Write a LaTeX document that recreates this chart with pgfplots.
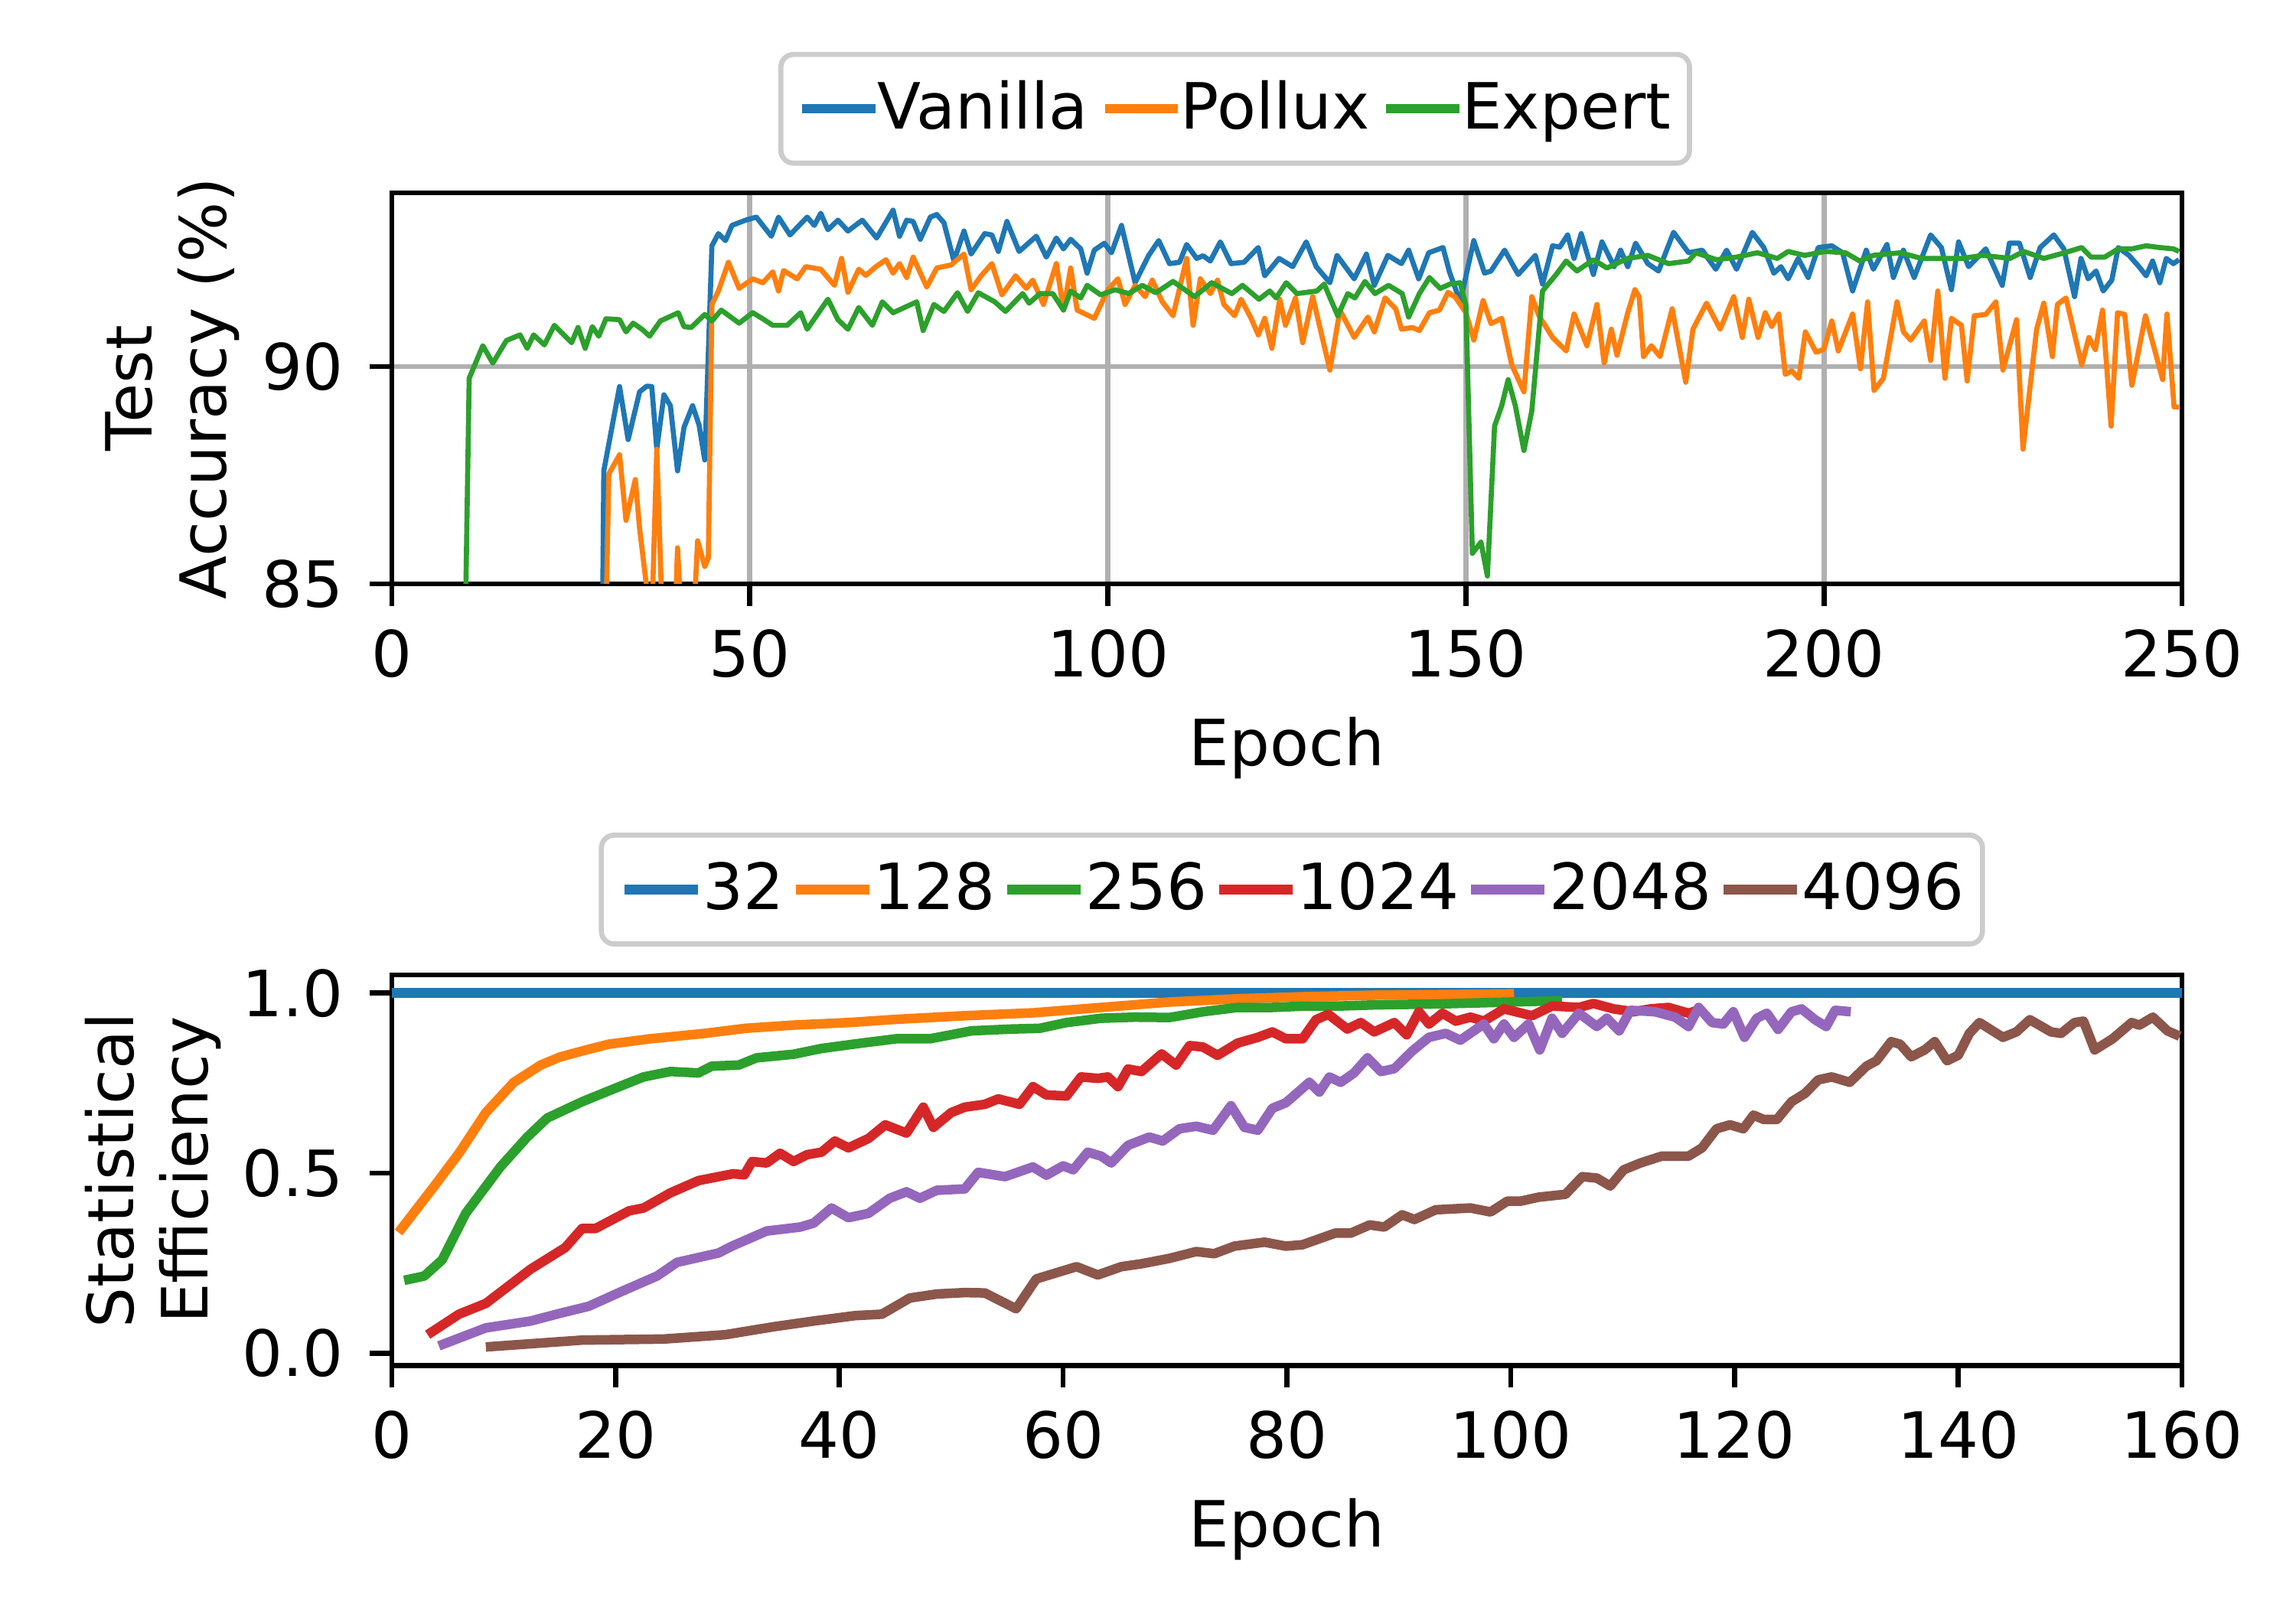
\documentclass[border=0pt]{standalone}
\usepackage{fontspec}
\setmainfont{DejaVu Sans}
\usepackage{pgfplots}
\pgfplotsset{compat=1.18}
\definecolor{c0}{HTML}{1F77B4}
\definecolor{c1}{HTML}{FF7F0E}
\definecolor{c2}{HTML}{2CA02C}
\definecolor{c3}{HTML}{D62728}
\definecolor{c4}{HTML}{9467BD}
\definecolor{c5}{HTML}{8C564B}
\definecolor{gridc}{HTML}{B0B0B0}
\definecolor{legc}{HTML}{CCCCCC}
\newcommand{\ls}{\rule[-2.14bp]{0pt}{9.94bp}}
\newcommand{\tf}{\fontsize{10bp}{11.6bp}\selectfont}
\pgfplotsset{
 myaxis/.style={
  scale only axis, width=280.68bp,
  axis line style={line width=0.8bp, black},
  tick align=outside, tick pos=left,
  major tick length=3.5bp,
  every tick/.style={black, line width=0.8bp},
  /pgf/number format/assume math mode=true,
  tick label style={font=\tf},
  xticklabel style={anchor=base, inner sep=0pt, yshift=-11.1bp},
  yticklabel style={anchor=east, inner sep=0pt, xshift=-3.9bp},
  xlabel style={at={(axis description cs:0.5,0)}, anchor=base, yshift=-28.5bp, inner sep=0pt, font=\tf},
  ylabel style={anchor=center, align=center, inner sep=0pt, font=\tf},
  legend columns=-1,
  legend cell align=left,
  legend style={draw=legc, line width=0.8bp, rounded corners=2bp, fill=white,
    inner xsep=2.9bp, inner ysep=3.88bp, font=\tf,
    nodes={inner sep=0pt}},
  legend image code/.code={\path (0bp,0bp) -- (11.5bp,0bp);
    \draw[##1, line width=1.5bp, line cap=rect] (0.75bp,0bp) -- (10.75bp,0bp);},
 }
}
\begin{document}
\begin{tikzpicture}
\path[use as bounding box] (0,0) rectangle (360bp,252bp);
\begin{axis}[myaxis, at={(61.44bp,160.44bp)}, anchor=south west, height=61.32bp,
  xmin=0, xmax=250, ymin=85, ymax=94,
  xtick={0,50,100,150,200,250}, ytick={85,90},
  grid=major, major grid style={gridc, line width=0.8bp},
  xlabel={Epoch}, ylabel={Test\\Accuracy (\%)},
  ylabel style={at={(axis description cs:-0.1227,0.5)}},
  legend style={at={(axis description cs:0.4711,1.2148)}, anchor=center,
    /tikz/every even column/.append style={column sep=2.2bp}}]
\addplot[c0, line width=0.8bp, line join=round] coordinates {
(0,60) (28,70) (29.2,80) (29.6,87.6) (31.8,89.54) (33,88.32) (34.6,89.42) (35.6,89.55) (36.3,89.54) (37,88.1) (38,89.35) (38.9,89.1) (39.9,87.6) (40.8,88.6) (42,89.1) (42.9,88.66) (43.7,87.85) (44.7,92.78) (45.6,93.06) (46.6,92.9) (47.5,93.25) (49.4,93.37) (50.9,93.44) (53,93.0) (54,93.44) (55.6,93.03) (58,93.44) (59,93.25) (59.9,93.53) (60.9,93.15) (62.3,93.37) (63.7,93.12) (65.7,93.37) (67.7,92.96) (70,93.6) (70.9,93.0) (71.9,93.37) (72.8,93.34) (73.8,92.93) (75.2,93.44) (76.1,93.5) (77.1,93.31) (78.5,92.43) (79.9,93.12) (80.9,92.59) (82.8,93.06) (83.8,93.03) (84.7,92.65) (85.9,93.34) (87.6,92.65) (90,93.0) (91.4,92.52) (92.8,92.96) (93.8,92.71) (94.8,92.93) (96.2,92.71) (97.1,92.15) (98.1,92.68) (99.5,92.84) (100.5,92.62) (101.9,93.25) (103.8,91.93) (105.7,92.56) (107.1,92.9) (108.6,92.37) (110,92.4) (111,92.81) (112.4,92.49) (113.3,92.55) (114.3,92.43) (115.7,92.87) (117.2,92.37) (119,92.4) (121,92.74) (121.9,92.09) (123.9,92.49) (125.8,92.3) (127.7,92.87) (129.1,92.3) (131,91.93) (132,92.56) (134.4,92.02) (136.1,92.59) (137.2,91.87) (139.1,92.56) (141,92.37) (142,92.68) (143.4,92.02) (144.8,92.62) (146.8,92.74) (147.7,92.18) (149.2,91.49) (151.1,92.9) (152.6,92.15) (153.5,92.2) (155.4,92.68) (157.3,92.12) (159.7,92.56) (160.7,91.9) (162.1,92.78) (163.1,92.75) (164.2,93.03) (165.1,92.49) (166.1,93.06) (167.8,92.12) (169,92.87) (170.7,92.3) (171.6,92.68) (172.6,92.3) (173.7,92.84) (175.4,92.37) (176.9,92.2) (179,93.09) (181.1,92.62) (183,92.68) (184.9,92.24) (186.4,92.68) (187.8,92.24) (190,93.09) (191.6,92.74) (193,92.15) (194,92.3) (195,92.02) (196.4,92.49) (197.8,92.05) (199.2,92.74) (201.1,92.78) (202.6,92.62) (204,91.74) (205.9,92.68) (206.9,92.24) (208.8,92.81) (209.7,92.05) (211.1,92.68) (212.6,92.05) (214.9,93.03) (216.4,92.74) (217.8,91.77) (218.8,92.87) (220.2,92.3) (222.6,92.71) (224.9,91.87) (225.9,92.84) (227.3,92.84) (228.8,92.05) (230.2,92.74) (232.1,93.03) (233.5,92.71) (235,91.61) (235.9,92.49) (236.9,92.02) (238,92.2) (239,91.74) (240.2,91.99) (241.1,92.74) (242.6,92.56) (244,92.3) (245,92.09) (245.9,92.43) (246.9,91.93) (247.8,92.49) (248.8,92.37) (249.6,92.46)
};
\addlegendentry{\ls Vanilla}
\addplot[c1, line width=0.8bp, line join=round] coordinates {
(0,50) (28,70) (29.4,80) (30.3,87.53) (31.8,87.97) (32.7,86.46) (34,87.4) (34.6,86.27) (35.6,84.9) (36.1,83) (37,88.1) (38,83) (39.3,83) (39.9,85.83) (40.8,83) (41.8,83) (42.7,85.99) (43.7,85.4) (44.2,85.6) (44.7,91.43) (45.6,91.74) (47,92.4) (48.5,91.8) (50.4,92.02) (51.8,91.93) (53.2,92.18) (54,91.74) (54.7,92.21) (56.6,92.02) (57.8,92.3) (59.9,92.24) (61.8,91.87) (62.8,92.49) (63.7,91.71) (65.2,92.24) (66.2,92.1) (67.6,92.3) (69,92.46) (70,92.15) (70.9,92.37) (71.9,92.05) (72.8,92.52) (74.7,91.83) (76.1,92.27) (78.1,92.34) (79.9,92.59) (80.9,91.77) (82.3,92.09) (83.8,92.37) (85.2,91.65) (87.1,92.09) (88.6,91.8) (89.5,91.99) (91,91.43) (92.8,92.37) (93.8,91.3) (94.8,92.27) (95.7,91.3) (98.1,91.11) (100,91.77) (101.4,92.02) (102.4,91.43) (103.8,91.87) (105.2,91.61) (106.2,91.99) (107.6,91.49) (109.1,91.17) (111,92.49) (111.9,90.95) (112.9,92.02) (114.3,91.68) (115.3,91.99) (116.2,91.43) (117.7,91.17) (118.6,91.55) (120,91.11) (121,90.73) (121.9,91.11) (122.9,90.42) (124,91.55) (124.8,90.95) (126.2,91.58) (127.2,90.55) (128.6,91.61) (131,89.92) (132.4,91.3) (134.4,90.67) (136.3,91.14) (137.2,90.8) (138.7,91.58) (140.2,91.33) (141,90.86) (142.5,90.9) (143.5,90.83) (144.9,91.24) (146.3,91.3) (147.5,91.71) (148.5,91.6) (150,91.24) (151.1,90.61) (152.4,91.52) (153.5,90.99) (155,91.11) (156.4,90.04) (158.1,89.42) (159.2,91.61) (160.2,91.17) (162.1,90.67) (164,90.36) (165.1,91.21) (166.9,90.48) (168.3,91.43) (169.3,90.08) (170.3,90.86) (171.1,90.26) (172.6,91.24) (173.6,91.77) (174.2,91.6) (174.8,90.23) (175.9,90.48) (177.1,90.23) (178.8,91.33) (180.7,89.64) (181.7,90.86) (183.6,91.46) (185.5,90.86) (187.4,91.61) (188.6,90.67) (189.5,91.55) (190.8,90.67) (191.8,91.24) (192.7,90.92) (193.7,91.21) (194.6,89.82) (195.5,89.9) (196.5,89.73) (197.4,90.8) (198.9,90.33) (200,90.4) (201.1,91.05) (202,90.36) (204,91.21) (205.1,89.95) (206.1,91.49) (207,89.45) (208.3,89.73) (210.2,91.49) (211.1,90.8) (212.1,90.61) (214,91.05) (214.9,90.14) (215.9,91.74) (216.9,89.73) (217.8,91.11) (219.2,90.95) (220,89.67) (221,91.17) (222.6,91.2) (224,91.49) (225,89.92) (226.9,91.08) (227.8,88.1) (229.7,90.86) (230.7,91.46) (231.9,90.23) (232.6,91.43) (233.8,91.58) (236,90.04) (237,90.67) (237.9,90.39) (238.9,91.3) (240.1,88.63) (241,91.24) (242,91.2) (243,89.57) (244.9,91.17) (247.3,89.7) (247.9,91.21) (248.9,89.07) (249.6,89.07)
};
\addlegendentry{\ls Pollux}
\addplot[c2, line width=0.8bp, line join=round] coordinates {
(0,40) (9,75) (10,80) (10.3,84.5) (10.8,89.73) (12.7,90.48) (14.1,90.08) (16,90.6) (17.9,90.73) (18.9,90.42) (19.8,90.73) (21.3,90.5) (22.7,90.95) (25.1,90.55) (26,90.9) (27,90.42) (28,90.92) (28.9,90.7) (29.9,91.1) (31.8,91.08) (32.7,90.8) (33.7,91.0) (35,90.85) (36,90.7) (37.5,91.05) (40,91.24) (40.8,90.92) (41.8,90.9) (43.7,91.2) (44.7,91.05) (46,91.3) (48.5,91.0) (50.4,91.24) (51.8,91.1) (53.2,90.95) (55.2,90.95) (57.1,91.24) (58,90.86) (60.9,91.55) (62.3,91.08) (63.7,90.86) (65.2,91.36) (67.1,90.95) (68.5,91.49) (70,91.24) (73.3,91.49) (74.2,90.83) (75.7,91.43) (77.1,91.27) (79,91.7) (80.4,91.27) (81.9,91.7) (84.2,91.49) (85.7,91.27) (88.1,91.68) (89,91.46) (90.5,91.68) (92.3,91.68) (93.8,91.3) (94.8,91.74) (96.2,91.58) (97.1,91.87) (99,91.65) (101,91.77) (102.9,91.68) (104.8,91.87) (106.7,91.7) (109.1,91.96) (112.1,91.61) (114.5,91.93) (117.3,91.68) (118.8,91.87) (121.1,91.55) (122.6,91.74) (123.5,91.58) (124.9,91.93) (126.4,91.68) (129.2,91.74) (130.2,91.9) (132.1,91.17) (133.5,91.68) (134.5,91.58) (135.9,91.96) (137.3,91.68) (139.2,91.87) (141.1,91.68) (142,91.14) (143.5,91.68) (144.9,92.05) (146.4,91.8) (147.8,91.9) (149.2,91.93) (150,91.4) (150.9,85.7) (152.1,85.96) (153,85.18) (154,88.63) (155,89.1) (155.9,89.7) (156.9,89.1) (158.1,88.07) (159.2,88.98) (160.7,91.74) (162.6,92.12) (164,92.43) (165.5,92.2) (167.8,92.46) (169.7,92.27) (172.6,92.49) (175.4,92.56) (178.3,92.37) (181.1,92.43) (182.1,92.62) (185,92.46) (187.8,92.52) (190.7,92.62) (193.5,92.49) (195,92.65) (197.3,92.56) (200.2,92.65) (203,92.62) (205,92.43) (206.9,92.56) (210.7,92.62) (213.6,92.49) (216.5,92.49) (219.3,92.49) (222.2,92.56) (226,92.49) (227.9,92.65) (230.7,92.49) (233.6,92.62) (236,92.74) (237.3,92.52) (239.2,92.52) (241.1,92.71) (243,92.71) (245,92.78) (246.9,92.74) (248.8,92.71) (249.6,92.65)
};
\addlegendentry{\ls Expert}
\end{axis}
\begin{axis}[myaxis, at={(61.44bp,37.9bp)}, anchor=south west, height=61.2bp,
  xmin=0, xmax=160, ymin=-0.034, ymax=1.05,
  xtick={0,20,40,60,80,100,120,140,160}, ytick={0,0.5,1},
  yticklabel style={/pgf/number format/.cd, fixed, fixed zerofill, precision=1},
  xlabel={Epoch}, ylabel={Statistical\\Efficiency},
  ylabel style={at={(axis description cs:-0.1334,0.5)}},
  legend style={at={(axis description cs:0.5028,1.219)}, anchor=center,
    /tikz/every even column/.append style={column sep=1.1bp}}]
\addplot[c0, line width=1.5bp] coordinates {(0,1) (165,1)};
\addlegendentry{\ls 32}
\addplot[c1, line width=1.5bp, line join=round] coordinates {
(0.6,0.335) (3.8,0.464) (6,0.555) (8.4,0.668) (10.9,0.752) (13.3,0.80) (15,0.822) (17,0.839) (19.4,0.858) (23.1,0.873) (28,0.888) (31.6,0.902) (35.9,0.911) (40.8,0.918) (45.1,0.927) (51.2,0.937) (57.3,0.945) (63.4,0.96) (69.5,0.975) (75.6,0.984) (81.7,0.99) (87.8,0.994) (95,0.996) (100.3,0.998)
};
\addlegendentry{\ls 128}
\addplot[c2, line width=1.5bp, line join=round] coordinates {
(1.1,0.202) (2.9,0.214) (4.5,0.259) (6.6,0.388) (9.7,0.517) (12.1,0.6) (13.9,0.653) (17,0.698) (20,0.736) (22.5,0.767) (24.9,0.782) (27.4,0.778) (28.6,0.797) (31,0.8) (32.6,0.82) (35.9,0.83) (38.4,0.846) (42,0.861) (45.1,0.873) (48.1,0.873) (51.8,0.895) (55.4,0.9) (57.9,0.902) (60.3,0.918) (63.4,0.93) (66.4,0.933) (69.5,0.932) (72.5,0.948) (75.6,0.96) (78.7,0.96) (81.7,0.964) (84.8,0.964) (87.8,0.967) (93.9,0.97) (100,0.975) (104.6,0.979)
};
\addlegendentry{\ls 256}
\addplot[c3, line width=1.5bp, line join=round] coordinates {
(3.2,0.051) (6,0.108) (8.4,0.138) (10.3,0.183) (12.4,0.233) (15.5,0.293) (17,0.346) (18.2,0.346) (21.2,0.395) (22.5,0.403) (24.9,0.445) (27.4,0.479) (30.5,0.498) (31.5,0.495) (32.2,0.532) (33.5,0.528) (34.7,0.555) (35.9,0.532) (37.1,0.551) (38.4,0.558) (39.6,0.589) (40.8,0.57) (42.6,0.596) (44.1,0.634) (46,0.611) (47.5,0.683) (48.4,0.627) (50,0.668) (51.2,0.683) (53,0.691) (54.2,0.706) (56.1,0.691) (57.3,0.74) (58.5,0.717) (60.3,0.714) (61.6,0.767) (63.1,0.763) (64,0.767) (64.9,0.74) (65.8,0.789) (67,0.782) (68.8,0.831) (70.1,0.8) (71.3,0.854) (72.5,0.85) (73.8,0.827) (75.6,0.861) (77.4,0.877) (78.7,0.892) (79.9,0.873) (81.4,0.873) (82.6,0.926) (83.7,0.941) (85.4,0.9) (86.6,0.918) (87.8,0.892) (89.6,0.918) (90.7,0.884) (91.8,0.948) (92.7,0.914) (93.9,0.944) (95.1,0.922) (96.4,0.933) (97.6,0.922) (99.4,0.956) (101.9,0.937) (103.7,0.964) (106.1,0.96) (107.4,0.971) (109.2,0.956) (111,0.948) (112.5,0.956) (114.1,0.96) (115.9,0.944) (117.1,0.956)
};
\addlegendentry{\ls 1024}
\addplot[c4, line width=1.5bp, line join=round] coordinates {
(4.2,0.02) (8.4,0.07) (12.4,0.089) (15.1,0.111) (17.6,0.13) (20.6,0.172) (23.7,0.214) (25.5,0.252) (29.2,0.278) (30.4,0.297) (33.5,0.339) (36.5,0.35) (37.7,0.361) (39.3,0.403) (40.8,0.376) (42.6,0.388) (44.5,0.43) (46,0.448) (47.2,0.43) (48.7,0.452) (51.2,0.456) (52.4,0.502) (54.8,0.49) (57.3,0.517) (58.5,0.494) (60,0.52) (60.9,0.509) (62.2,0.558) (63.4,0.547) (64.3,0.528) (65.8,0.577) (67.7,0.6) (68.9,0.589) (70.4,0.623) (71.9,0.63) (73.4,0.619) (75,0.687) (76.2,0.627) (77.4,0.619) (78.7,0.68) (79.9,0.695) (82,0.752) (82.9,0.725) (83.8,0.767) (84.8,0.752) (86,0.778) (87.2,0.82) (88.4,0.782) (89.6,0.79) (91.2,0.839) (92.7,0.877) (94.2,0.888) (95.5,0.869) (97.6,0.914) (98.5,0.873) (99.4,0.914) (100.3,0.877) (101.6,0.914) (102.6,0.842) (103.7,0.93) (104.6,0.888) (106.1,0.944) (107.7,0.907) (108.6,0.93) (109.7,0.895) (110.7,0.952) (112.9,0.948) (114.7,0.933) (115.9,0.907) (116.8,0.96) (118,0.918) (119,0.914) (119.9,0.948) (120.9,0.877) (122,0.93) (122.9,0.944) (123.9,0.899) (125.1,0.948) (126,0.956) (127.2,0.926) (128.2,0.907) (129,0.952) (130.4,0.948)
};
\addlegendentry{\ls 2048}
\addplot[c5, line width=1.5bp, line join=round] coordinates {
(8.4,0.017) (17,0.036) (24.3,0.039) (29.8,0.051) (34.1,0.073) (37.7,0.089) (41.4,0.104) (43.8,0.108) (46.3,0.153) (48.7,0.164) (51.2,0.168) (53,0.167) (55.8,0.123) (57.6,0.206) (61.2,0.24) (63.1,0.217) (65.2,0.24) (67,0.248) (69.5,0.263) (71.9,0.282) (73.5,0.276) (75.3,0.297) (78,0.308) (79.9,0.297) (81.4,0.301) (84.3,0.333) (85.7,0.333) (87.4,0.356) (88.7,0.35) (90.3,0.384) (91.4,0.371) (93.3,0.398) (96.4,0.403) (98.2,0.392) (99.7,0.422) (100.9,0.422) (102.5,0.433) (104.9,0.441) (106.4,0.49) (107.7,0.486) (108.9,0.464) (110.1,0.509) (111.6,0.528) (113.5,0.547) (115.9,0.547) (117.1,0.57) (118.4,0.623) (119.6,0.634) (120.8,0.623) (121.7,0.661) (122.6,0.649) (123.8,0.649) (125.1,0.698) (126.3,0.721) (127.5,0.759) (128.7,0.767) (130.3,0.752) (131.8,0.797) (132.7,0.812) (134,0.865) (134.8,0.858) (135.8,0.823) (137,0.842) (137.9,0.865) (139,0.812) (140,0.827) (141,0.888) (141.9,0.918) (144,0.877) (145.2,0.892) (146.4,0.926) (148.3,0.892) (149.2,0.888) (150.4,0.918) (151.2,0.922) (152.2,0.842) (153.8,0.873) (155.5,0.918) (156.2,0.911) (157.4,0.933) (158.7,0.895) (159.8,0.88)
};
\addlegendentry{\ls 4096}
\end{axis}
\end{tikzpicture}
\end{document}
